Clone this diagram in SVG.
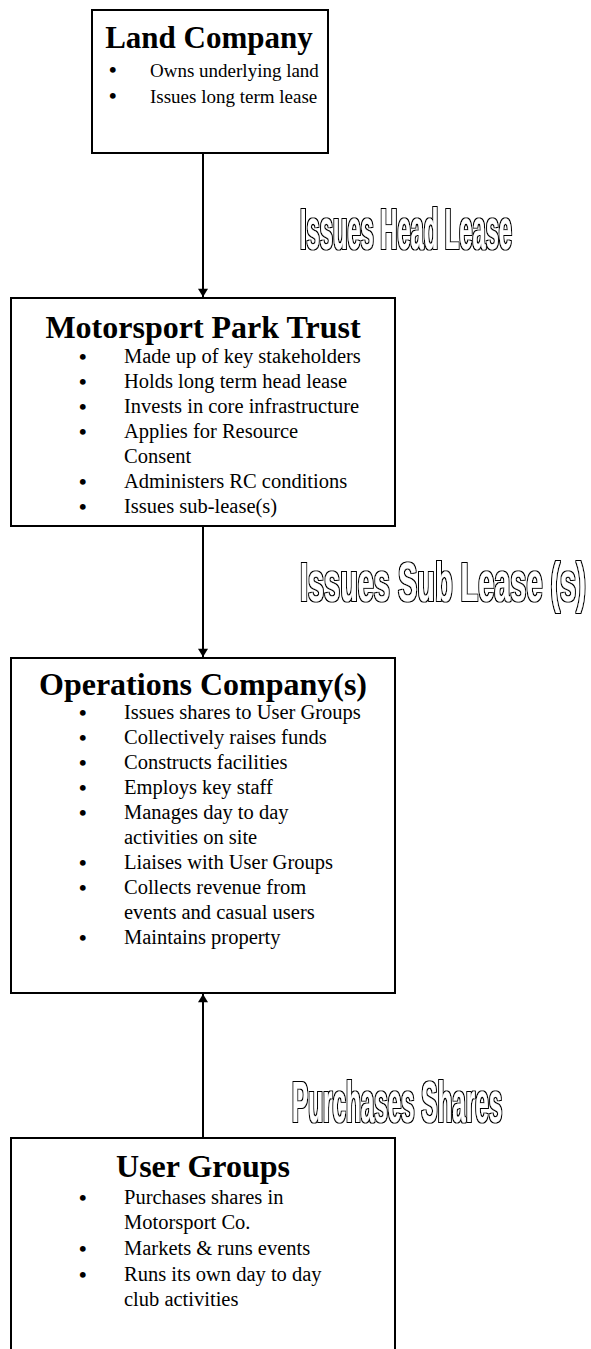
<svg xmlns="http://www.w3.org/2000/svg" width="591" height="1349" viewBox="0 0 591 1349">
  <style>
    .box { fill: #fff; stroke: #000; stroke-width: 2; }
    .head { font-family: "Liberation Serif", "Times New Roman", serif; font-weight: bold; font-size: 32px; fill: #000; text-anchor: middle; }
    .body { font-family: "Liberation Serif", "Times New Roman", serif; font-size: 20.5px; fill: #000; }
    .bul { font-family: "Liberation Serif", "Times New Roman", serif; font-size: 21.5px; font-weight: bold; fill: #000; }
    .wordart { font-family: "Liberation Sans", Arial, sans-serif; font-weight: bold; font-size: 58px; fill: #fff; }
    .conn { stroke: #000; stroke-width: 2; fill: none; }
  </style>
  <defs>
    <marker id="arrow" viewBox="0 0 10 12" refX="10" refY="6" markerWidth="6" markerHeight="5" orient="auto" markerUnits="strokeWidth">
      <path d="M0,0 L10,6 L0,12 Z" fill="#000"/>
    </marker>
    <!-- black ring around white lettering -->
    <filter id="outline" x="-5%" y="-20%" width="110%" height="140%">
      <feMorphology in="SourceAlpha" operator="dilate" radius="1.4" result="thick"/>
      <feFlood flood-color="#000"/>
      <feComposite in2="thick" operator="in" result="ring"/>
      <feMerge>
        <feMergeNode in="ring"/>
        <feMergeNode in="SourceGraphic"/>
      </feMerge>
    </filter>
  </defs>

  <rect width="591" height="1349" fill="#fff"/>

  <!-- connectors and their labels -->
  <g id="connectors">
    <line class="conn" x1="203" y1="153" x2="203" y2="297" marker-end="url(#arrow)"/>
    <line class="conn" x1="203" y1="526" x2="203" y2="657" marker-end="url(#arrow)"/>
    <line class="conn" x1="203" y1="1138" x2="203" y2="994" marker-end="url(#arrow)"/>
    <g filter="url(#outline)">
      <text class="wordart" transform="translate(300,249) scale(0.4085,1)">Issues Head Lease</text>
    </g>
    <g filter="url(#outline)">
      <text class="wordart" style="font-size:56px" transform="translate(300,601) scale(0.516,1)">Issues Sub Lease (s)</text>
    </g>
    <g filter="url(#outline)">
      <text class="wordart" transform="translate(292,1122) scale(0.418,1)">Purchases Shares</text>
    </g>
  </g>

  <!-- Land Company -->
  <g id="land-company">
    <rect class="box" x="92" y="10" width="236" height="143"/>
    <text class="head" x="209" y="48" style="font-size:31px">Land Company</text>
    <text class="bul" x="109" y="77">•</text>
    <text class="body" x="150" y="77" style="font-size:19px">Owns underlying land</text>
    <text class="bul" x="109" y="103">•</text>
    <text class="body" x="150" y="103" style="font-size:19px">Issues long term lease</text>
  </g>

  <!-- Motorsport Park Trust -->
  <g id="motorsport-park-trust">
    <rect class="box" x="11" y="298" width="384" height="228"/>
    <text class="head" x="203" y="338">Motorsport Park Trust</text>
    <text class="bul" x="79" y="364">•</text>
    <text class="body" x="124" y="363">Made up of key stakeholders</text>
    <text class="bul" x="79" y="389">•</text>
    <text class="body" x="124" y="388">Holds long term head lease</text>
    <text class="bul" x="79" y="414">•</text>
    <text class="body" x="124" y="413">Invests in core infrastructure</text>
    <text class="bul" x="79" y="439">•</text>
    <text class="body" x="124" y="438">Applies for Resource</text>
    <text class="body" x="124" y="463">Consent</text>
    <text class="bul" x="79" y="489">•</text>
    <text class="body" x="124" y="488">Administers RC conditions</text>
    <text class="bul" x="79" y="514">•</text>
    <text class="body" x="124" y="513">Issues sub-lease(s)</text>
  </g>

  <!-- Operations Company(s) -->
  <g id="operations-company">
    <rect class="box" x="11" y="658" width="384" height="335"/>
    <text class="head" x="203" y="695">Operations Company(s)</text>
    <text class="bul" x="79" y="720">•</text>
    <text class="body" x="124" y="719">Issues shares to User Groups</text>
    <text class="bul" x="79" y="745">•</text>
    <text class="body" x="124" y="744">Collectively raises funds</text>
    <text class="bul" x="79" y="770">•</text>
    <text class="body" x="124" y="769">Constructs facilities</text>
    <text class="bul" x="79" y="795">•</text>
    <text class="body" x="124" y="794">Employs key staff</text>
    <text class="bul" x="79" y="820">•</text>
    <text class="body" x="124" y="819">Manages day to day</text>
    <text class="body" x="124" y="844">activities on site</text>
    <text class="bul" x="79" y="870">•</text>
    <text class="body" x="124" y="869">Liaises with User Groups</text>
    <text class="bul" x="79" y="895">•</text>
    <text class="body" x="124" y="894">Collects revenue from</text>
    <text class="body" x="124" y="919">events and casual users</text>
    <text class="bul" x="79" y="945">•</text>
    <text class="body" x="124" y="944">Maintains property</text>
  </g>

  <!-- User Groups -->
  <g id="user-groups">
    <rect class="box" x="11" y="1138" width="384" height="230"/>
    <text class="head" x="203" y="1177">User Groups</text>
    <text class="bul" x="79" y="1205">•</text>
    <text class="body" x="124" y="1204">Purchases shares in</text>
    <text class="body" x="124" y="1229">Motorsport Co.</text>
    <text class="bul" x="79" y="1256">•</text>
    <text class="body" x="124" y="1255">Markets &amp; runs events</text>
    <text class="bul" x="79" y="1282">•</text>
    <text class="body" x="124" y="1281">Runs its own day to day</text>
    <text class="body" x="124" y="1306">club activities</text>
  </g>
</svg>
